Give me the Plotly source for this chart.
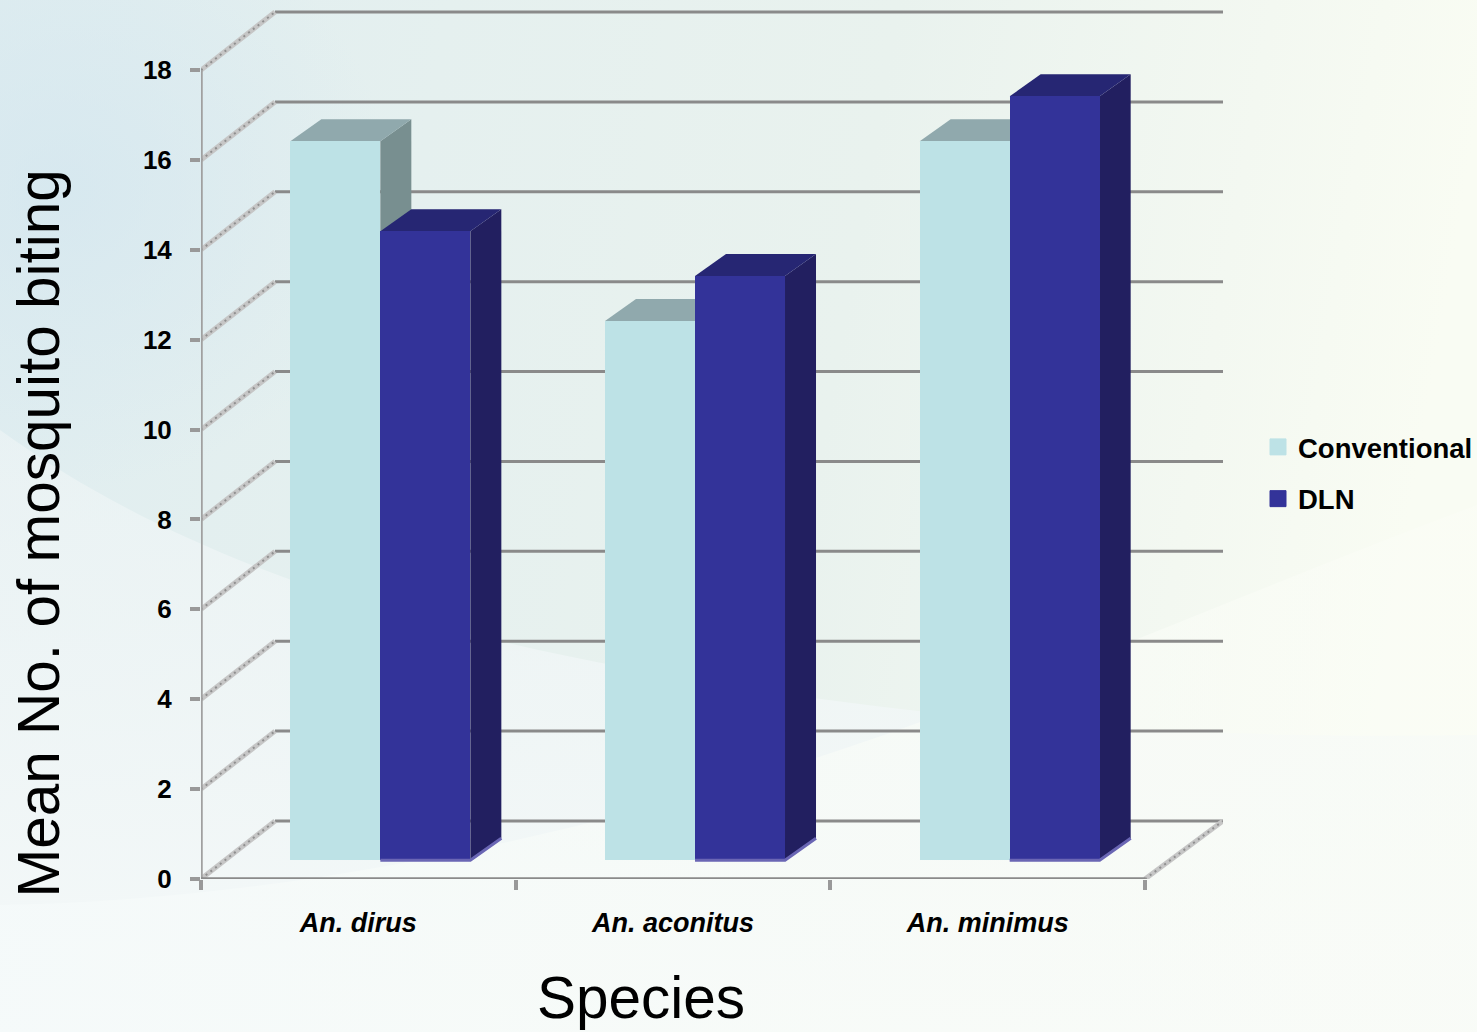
import base64
import plotly.graph_objects as go

species = ["An. dirus", "An. aconitus", "An. minimus"]
conventional = [16, 12, 16]
dln = [14, 13, 17]
y_ticks = list(range(0, 20, 2))
x_edges = [0, 1, 2, 3]
x_centres = [0.5, 1.5, 2.5]

# Pixel scale of the drawing (used only to set up axes and 3-D offsets)
PX_X, PX_Y = 314.67, 44.94
L, R, T, B = 201, 1223, 8, 879
WALL_DX, WALL_DY = 74 / PX_X, 58 / PX_Y
BAR_SHIFT_X, BAR_BASE = 22 / PX_X, 18.7 / PX_Y
BAR_W = 90 / PX_X
SIDE_DX, TOP_DY = 31 / PX_X, 22 / PX_Y
X_MAX = (R - L) / PX_X

CONV, CONV_TOP, CONV_SIDE = "#bde2e6", "#90a9ad", "#788f90"
DLN, DLN_TOP, DLN_SIDE = "#333399", "#262673", "#221f60"
GRID = "#8a8a8a"

svg = """<svg xmlns='http://www.w3.org/2000/svg' width='1477' height='1032'>
<defs>
<linearGradient id='a' x1='0' y1='0' x2='1' y2='0.12'>
<stop offset='0' stop-color='#dfedf0'/><stop offset='0.3' stop-color='#e5f0ef'/>
<stop offset='0.6' stop-color='#e9f2ee'/><stop offset='0.85' stop-color='#f3f8f1'/>
<stop offset='1' stop-color='#f9fcf3'/></linearGradient>
<linearGradient id='b' x1='0' y1='0' x2='0' y2='1'>
<stop offset='0' stop-color='#eff5f6' stop-opacity='0.6'/><stop offset='1' stop-color='#f5f9f9' stop-opacity='1'/></linearGradient>
<linearGradient id='c' x1='0' y1='0' x2='1' y2='0'>
<stop offset='0' stop-color='#f5fafa' stop-opacity='0.85'/><stop offset='1' stop-color='#fbfdf6' stop-opacity='0.6'/></linearGradient>
<radialGradient id='d' cx='0.5' cy='0.5' r='0.5'>
<stop offset='0' stop-color='#d3e6ef' stop-opacity='0.7'/><stop offset='1' stop-color='#d3e6ef' stop-opacity='0'/></radialGradient>
</defs>
<rect width='1477' height='1032' fill='url(#a)'/>
<ellipse cx='60' cy='190' rx='330' ry='300' fill='url(#d)'/>
<path d='M0 430 C180 560 420 640 760 690 C950 720 1200 740 1477 735 L1477 1032 L0 1032 Z' fill='url(#b)'/>
<path d='M0 905 C300 900 600 830 840 750 C1050 680 1250 590 1477 505 L1477 1032 L0 1032 Z' fill='url(#c)'/>
</svg>"""
bg = "data:image/svg+xml;base64," + base64.b64encode(svg.encode()).decode()


def bar_faces(values, left_offset, top_col, side_col):
    out = []
    for c, v in zip(x_centres, values):
        x0 = c + BAR_SHIFT_X + left_offset
        x1 = x0 + BAR_W
        y1 = v + BAR_BASE
        top = (f"M{x0},{y1} L{x0 + SIDE_DX},{y1 + TOP_DY} "
               f"L{x1 + SIDE_DX},{y1 + TOP_DY} L{x1},{y1} Z")
        side = (f"M{x1},{BAR_BASE} L{x1 + SIDE_DX},{BAR_BASE + TOP_DY} "
                f"L{x1 + SIDE_DX},{y1 + TOP_DY} L{x1},{y1} Z")
        out.append(dict(type="path", path=side, fillcolor=side_col,
                        line=dict(width=0), layer="below", xref="x", yref="y"))
        out.append(dict(type="path", path=top, fillcolor=top_col,
                        line=dict(width=0), layer="below", xref="x", yref="y"))
    return out


def frame_line(xs, ys, color, width, dash="solid"):
    return go.Scatter(x=xs, y=ys, mode="lines", line=dict(color=color, width=width, dash=dash),
                      cliponaxis=False, showlegend=False, hoverinfo="skip")


shapes = []
# back-wall gridlines
for t in y_ticks:
    shapes.append(dict(type="line", x0=WALL_DX, x1=X_MAX, y0=t + WALL_DY, y1=t + WALL_DY,
                       xref="x", yref="y", layer="below", line=dict(color=GRID, width=3)))
shapes += bar_faces(conventional, -BAR_W, CONV_TOP, CONV_SIDE)
shapes += bar_faces(dln, 0, DLN_TOP, DLN_SIDE)
# lighter bottom edge of the dark bars
for c in x_centres:
    x0 = c + BAR_SHIFT_X
    x1 = x0 + BAR_W
    shapes.append(dict(type="path", xref="x", yref="y", layer="above",
                       path=f"M{x0},{BAR_BASE} L{x1},{BAR_BASE} L{x1 + SIDE_DX},{BAR_BASE + TOP_DY}",
                       line=dict(color="#6a66b4", width=3), fillcolor="rgba(0,0,0,0)"))

fig = go.Figure()
for name, vals, col, off in [("Conventional", conventional, CONV, -BAR_W), ("DLN", dln, DLN, 0)]:
    fig.add_trace(go.Bar(
        x=[c + BAR_SHIFT_X + off + BAR_W / 2 for c in x_centres], y=vals,
        base=[BAR_BASE] * 3, width=BAR_W, name=name, marker=dict(color=col, line=dict(width=0)),
        legendgroup=name, showlegend=False, hovertemplate="%{y}<extra>" + name + "</extra>"))
    fig.add_trace(go.Scatter(
        x=[None], y=[None], mode="markers", name=name, legendgroup=name, showlegend=True,
        marker=dict(symbol="square", size=16, color=col, line=dict(width=1, color=col))))

# slanted side-wall lines and the two front axes
for t in y_ticks:
    fig.add_trace(frame_line([0, WALL_DX], [t, t + WALL_DY], "#c6c6c6", 5))
    fig.add_trace(frame_line([0, WALL_DX], [t, t + WALL_DY], "#8f8f8f", 2, "2px,4px"))
fig.add_trace(frame_line([x_edges[-1], X_MAX], [0, WALL_DY], "#c6c6c6", 5))
fig.add_trace(frame_line([x_edges[-1], X_MAX], [0, WALL_DY], "#8f8f8f", 2, "2px,4px"))
fig.add_trace(frame_line([0, 0], [0, y_ticks[-1]], "#a0a0a0", 3.5))
fig.add_trace(frame_line([0, x_edges[-1]], [0, 0], GRID, 3.5))

font = "Liberation Sans, Arial, sans-serif"
fig.update_layout(
    width=1477, height=1032, autosize=False,
    margin=dict(l=L, r=1477 - R, t=T, b=1032 - B, autoexpand=False),
    paper_bgcolor="#f3f8f6", plot_bgcolor="rgba(0,0,0,0)",
    barmode="overlay", bargap=0,
    font=dict(family=font, color="#000000"),
    shapes=shapes,
    images=[dict(source=bg, xref="paper", yref="paper", x=-L / (R - L), y=B / (B - T),
                 sizex=1477 / (R - L), sizey=1032 / (B - T), xanchor="left", yanchor="top",
                 sizing="stretch", layer="below")],
    xaxis=dict(range=[0, X_MAX], tickmode="array", tickvals=x_centres, ticktext=species,
               ticks="", ticklabelstandoff=25, showgrid=False, zeroline=False, showline=False,
               tickfont=dict(size=27, weight="bold", style="italic", family=font),
               minor=dict(tickmode="array", tickvals=x_edges, ticks="outside", ticklen=10, tickwidth=4,
                          tickcolor="#999999", showgrid=False)),
    yaxis=dict(range=[0, (B - T) / PX_Y], tickmode="array", tickvals=y_ticks, ticks="outside", ticklen=10,
               tickwidth=4, tickcolor="#999999", ticklabelstandoff=13, showgrid=False, zeroline=False,
               showline=False, tickfont=dict(size=26, weight="bold", family=font)),
    legend=dict(x=(1258 - L) / (R - L), y=(B - 473) / (B - T), xanchor="left", yanchor="middle",
                bgcolor="rgba(0,0,0,0)", tracegroupgap=13, font=dict(size=27.5, weight="bold", family=font)),
    annotations=[
        dict(text="Mean No. of mosquito biting", textangle=-90, xref="paper", yref="paper",
             x=(38 - L) / (R - L), y=(B - 533.5) / (B - T), showarrow=False, xanchor="center", yanchor="middle",
             font=dict(size=58.5, family=font)),
        dict(text="Species", xref="paper", yref="paper", x=(641 - L) / (R - L), y=(B - 998) / (B - T),
             showarrow=False, xanchor="center", yanchor="middle", font=dict(size=58.5, family=font)),
    ],
)
fig.write_html("out.html", config=dict(displayModeBar=False),
               post_script="document.body.style.margin='0';document.body.style.overflow='hidden';")
